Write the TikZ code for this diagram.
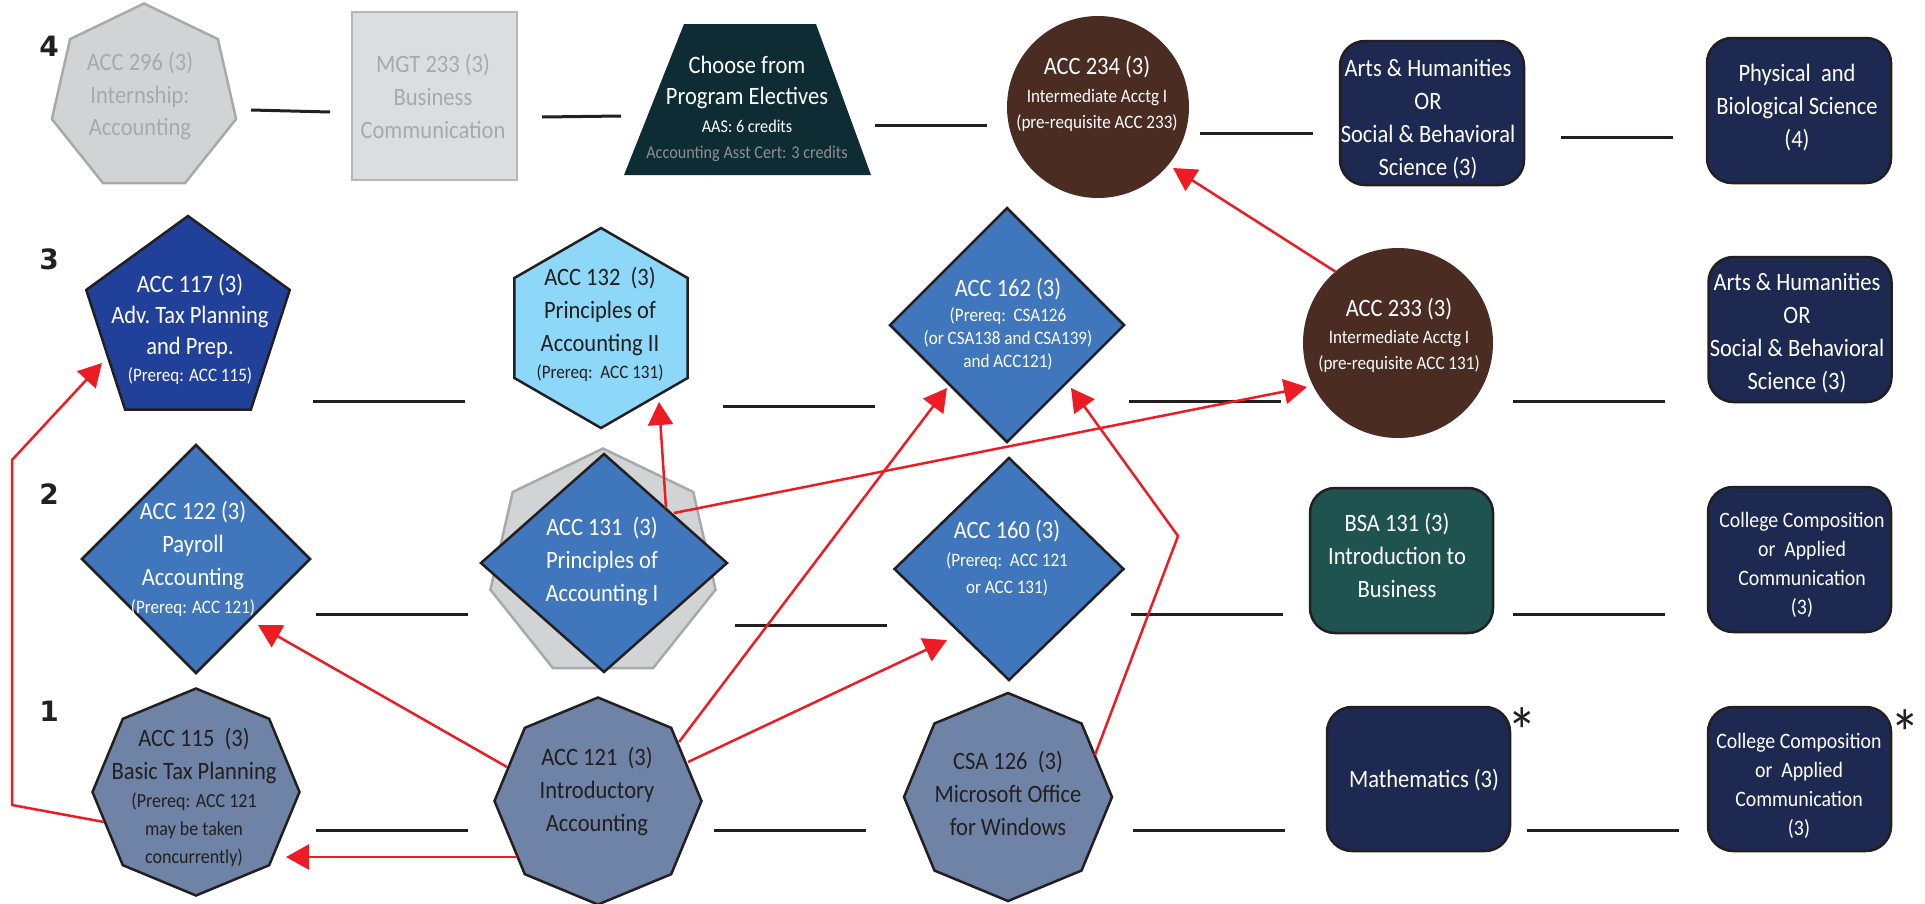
\documentclass[tikz,border=0pt]{standalone}
\usepackage{fontspec}
\setmainfont{Carlito}[FakeStretch=0.9]
\newfontfamily\lblfont{DejaVu Sans}
\usetikzlibrary{shapes.geometric,arrows.meta}
\definecolor{grayfill}{HTML}{D1D3D4}
\definecolor{grayedge}{HTML}{A7A9AC}
\definecolor{graytext}{HTML}{A7A9AC}
\definecolor{mgtfill}{HTML}{DCDDDE}
\definecolor{elect}{HTML}{0D2C33}
\definecolor{brown}{HTML}{4A2C22}
\definecolor{navy}{HTML}{1D2951}
\definecolor{teal}{HTML}{1F5350}
\definecolor{royal}{HTML}{21409A}
\definecolor{lightblue}{HTML}{8DD8F8}
\definecolor{steel}{HTML}{4076BC}
\definecolor{slate}{HTML}{6E83A5}
\definecolor{redline}{HTML}{ED1C24}
\definecolor{ink}{HTML}{231F20}
\newcommand{\sm}{\fontsize{19}{26}\selectfont}
\newcommand{\smb}{\fontsize{20}{26}\selectfont}
\newcommand{\md}{\fontsize{22}{29}\selectfont}
\begin{document}
\begin{tikzpicture}[x=1pt,y=-1pt,
  shp/.style={inner sep=0pt, outer sep=0pt, line width=2.5pt, draw=ink},
  grayshp/.style={shp, draw=grayedge, fill=grayfill},
  poly/.style={shp, regular polygon, regular polygon sides=#1},
  dia/.style={shp, diamond, fill=steel},
  box/.style={shp, rectangle, rounded corners=25pt, fill=navy},
  txt/.style={align=center, inner sep=0pt, font=\fontsize{25}{33}\selectfont},
  wtxt/.style={txt, text=white},
  btxt/.style={txt, text=ink},
  blank/.style={draw=ink, line width=3pt},
  prereq/.style={draw=redline, line width=2.5pt, -{Triangle[length=23pt,width=25pt]}},
  rowlbl/.style={inner sep=0pt, font=\lblfont\bfseries\fontsize{28}{28}\selectfont, text=ink},
  star/.style={inner sep=0pt, text=ink, font=\fontsize{66}{66}\selectfont}
]
\useasboundingbox (0,0) rectangle (1925,903);

% row labels
\node[rowlbl] (r4) at (49,46) {4};
\node[rowlbl] (r3) at (49,259) {3};
\node[rowlbl] (r2) at (49,494) {2};
\node[rowlbl] (r1) at (49,711) {1};

% ---------- row 4 ----------
\node[grayshp, regular polygon, regular polygon sides=7, minimum size=189pt] (s296) at (144,98) {};
\node[txt, text=graytext] (t296) at (140,96) {ACC 296 (3)\\Internship:\\Accounting};

\node[shp, rectangle, draw=grayedge!85, fill=mgtfill, minimum width=165pt, minimum height=168pt] (sMGT) at (434.5,96) {};
\node[txt, text=graytext] (tMGT) at (433,96.5) {MGT 233 (3)\\Business\\Communication};

\fill[elect] (684,24) -- (816,24) -- (871,175) -- (624,175) -- cycle;
\node[wtxt] (tElect) at (747,109) {Choose from\\[-2pt]Program Electives\\[-5pt]{\fontsize{18}{26}\selectfont AAS: 6 credits}\\[-7pt]{\fontsize{18}{26}\selectfont\color{graytext!85!black} Accounting Asst Cert: 3 credits}};

\node[shp, circle, draw=none, fill=brown, minimum size=182pt] (s234) at (1098,107) {};
\node[wtxt] (t234) at (1097,94) {ACC 234 (3)\\[-5pt]{\sm Intermediate Acctg I}\\[-7pt]{\sm (pre-requisite ACC 233)}};

\node[box, minimum width=184pt, minimum height=144pt] (sArts1) at (1432,113) {};
\node[wtxt] (tArts1) at (1428,119) {Arts \& Humanities\\OR\\Social \& Behavioral\\Science (3)};

\node[box, minimum width=184pt, minimum height=145pt] (sPhys) at (1799,110.5) {};
\node[wtxt] (tPhys) at (1797,107.5) {Physical\ \ and\\Biological Science\\(4)};

% ---------- row 3 ----------
\node[poly=5, fill=royal, minimum size=214pt] (s117) at (188,323) {};
\node[wtxt] (t117) at (190,329) {ACC 117 (3)\\[-2pt]Adv.\ Tax Planning\\[-2pt]and Prep.\\[-6pt]{\sm (Prereq: ACC 115)}};

\node[poly=6, shape border rotate=30, fill=lightblue, minimum size=200pt] (s132) at (601,328) {};
\node[btxt] (t132) at (600,324) {ACC 132\ \ (3)\\Principles of\\Accounting II\\[-6pt]{\sm (Prereq:\ \ ACC 131)}};

\node[dia, minimum width=234pt, minimum height=234pt] (s162) at (1007,325) {};
\node[wtxt] (t162) at (1008,324) {ACC 162 (3)\\[-8pt]{\sm (Prereq:\ \ CSA126}\\[-10pt]{\sm (or CSA138 and CSA139)}\\[-10pt]{\sm and ACC121)}};

\node[shp, circle, draw=none, fill=brown, minimum size=190pt] (s233) at (1398,343) {};
\node[wtxt] (t233) at (1399,335) {ACC 233 (3)\\[-6pt]{\sm Intermediate Acctg I}\\[-7pt]{\sm (pre-requisite ACC 131)}};

\node[box, minimum width=183pt, minimum height=145pt] (sArts2) at (1800,329.5) {};
\node[wtxt] (tArts2) at (1797,333) {Arts \& Humanities\\OR\\Social \& Behavioral\\Science (3)};

% ---------- row 2 ----------
\node[dia, minimum width=228pt, minimum height=228pt] (s122) at (196,559) {};
\node[wtxt] (t122) at (193,559) {ACC 122 (3)\\Payroll\\Accounting\\[-5pt]{\sm (Prereq: ACC 121)}};

\node[grayshp, regular polygon, regular polygon sides=7, minimum size=231pt] (s131h) at (603,564) {};
\node[dia, minimum width=246pt, minimum height=218pt] (s131) at (604,563) {};
\node[wtxt] (t131) at (602,561) {ACC 131\ \ (3)\\Principles of\\Accounting I};

\node[dia, minimum width=229pt, minimum height=222pt] (s160) at (1009,569) {};
\node[wtxt] (t160) at (1007,558) {ACC 160 (3)\\[-5pt]{\sm (Prereq:\ \ ACC 121}\\[-6pt]{\sm or ACC 131)}};

\node[box, fill=teal, minimum width=183pt, minimum height=145pt] (sBSA) at (1401.5,560.5) {};
\node[wtxt] (tBSA) at (1397,555) {BSA 131 (3)\\Introduction to\\Business};

\node[box, minimum width=183pt, minimum height=145pt] (sCol1) at (1799.5,559.5) {};
\node[wtxt, font=\md] (tCol1) at (1802,565) {College Composition\\or\ \ Applied\\Communication\\(3)};

% ---------- row 1 ----------
\node[poly=8, shape border rotate=22.5, fill=slate, minimum size=207pt] (s115) at (196,792) {};
\node[btxt] (t115) at (194,797) {ACC 115\ \ (3)\\Basic Tax Planning\\[-5pt]{\smb (Prereq: ACC 121}\\[-5pt]{\smb may be taken}\\[-5pt]{\smb concurrently)}};

\node[poly=8, shape border rotate=22.5, fill=slate, minimum size=207pt] (s121) at (598,801) {};
\node[btxt] (t121) at (597,791.5) {ACC 121\ \ (3)\\Introductory\\Accounting};

\node[poly=8, shape border rotate=22.5, fill=slate, minimum size=208pt] (s126) at (1008,797) {};
\node[btxt] (t126) at (1008,793) {CSA 126\ \ (3)\\Microsoft Office\\for Windows};

\node[box, minimum width=183pt, minimum height=144pt] (sMath) at (1418.5,779) {};
\node[wtxt] (tMath) at (1424,780) {Mathematics (3)};
\node[star] (ast1) at (1522,731) {*};

\node[box, minimum width=183pt, minimum height=144pt] (sCol2) at (1799.5,779) {};
\node[wtxt, font=\md] (tCol2) at (1799,786) {College Composition\\or\ \ Applied\\Communication\\(3)};
\node[star] (ast2) at (1905,733) {*};

% ---------- blank connectors between course slots ----------
\foreach \n/\xa/\ya/\xb/\yb in {
  a/251/110/330/112, b/542/117/621/116, c/875/125/987/125, d/1200/133/1313/133, e/1561/137/1673/137,
  f/313/401/465/401, g/723/406/875/406, h/1129/401/1281/401, i/1513/401/1665/401,
  j/316/614/468/614, k/735/625/887/625, l/1131/614/1283/614, m/1513/614/1665/614,
  n/316/830/468/830, o/714/830/866/830, p/1133/830/1285/830, q/1527/830/1679/830}{
  \coordinate (L\n1) at (\xa,\ya);
  \coordinate (L\n2) at (\xb,\yb);
  \draw[blank] (L\n1) -- (L\n2);
}

% ---------- prerequisite arrows ----------
\coordinate (p115a) at (104,822);
\coordinate (p115b) at (12,805);
\coordinate (p115c) at (12,460);
\coordinate (p117) at (102,363);
\draw[prereq] (p115a) -- (p115b) -- (p115c) -- (p117);

\coordinate (p121w) at (517,857);
\coordinate (p115t) at (286,857);
\draw[prereq] (p121w) -- (p115t);

\coordinate (p121nw) at (507,767);
\coordinate (p122t) at (258,625);
\draw[prereq] (p121nw) -- (p122t);

\coordinate (p121ne) at (679,742);
\coordinate (p162l) at (947,388);
\draw[prereq] (p121ne) -- (p162l);

\coordinate (p121e) at (688,762);
\coordinate (p160t) at (947,640);
\draw[prereq] (p121e) -- (p160t);

\coordinate (p131a) at (666,508);
\coordinate (p132t) at (659,402);
\draw[prereq] (p131a) -- (p132t);

\coordinate (p131b) at (674,513);
\coordinate (p233t) at (1307,387);
\draw[prereq] (p131b) -- (p233t);

\coordinate (p126a) at (1095,755);
\coordinate (p126b) at (1178,536);
\coordinate (p162r) at (1071,388);
\draw[prereq] (p126a) -- (p126b) -- (p162r);

\coordinate (p233a) at (1336,272);
\coordinate (p234t) at (1173,168);
\draw[prereq] (p233a) -- (p234t);
\end{tikzpicture}
\end{document}
